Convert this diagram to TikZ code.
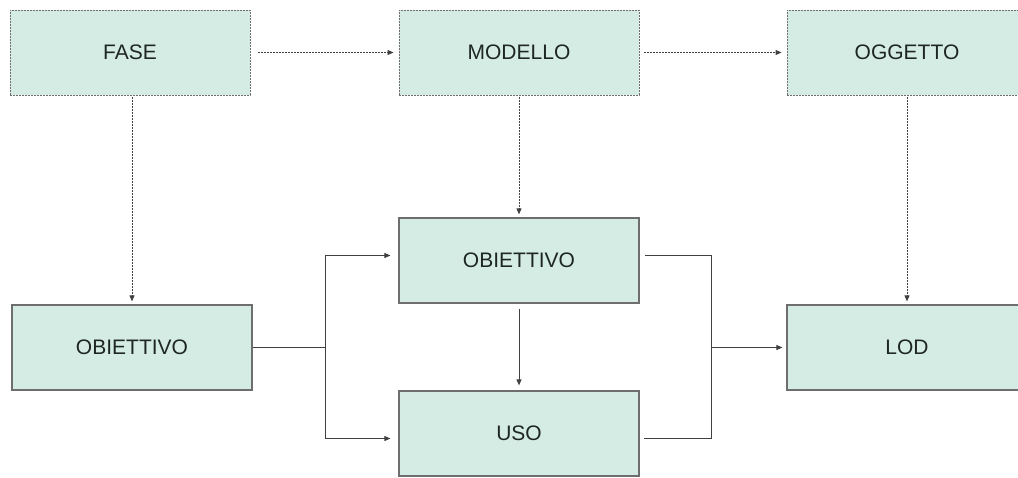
\documentclass[tikz,border=0pt]{standalone}
\usepackage{fontspec}
\setmainfont{Liberation Sans}
\usetikzlibrary{arrows.meta}
\definecolor{boxfill}{RGB}{213,236,228}
\definecolor{boxline}{RGB}{110,110,110}
\definecolor{boxtext}{RGB}{30,38,36}
\begin{document}
\begin{tikzpicture}[x = 1pt, y = -1pt,
	box/.style = {draw = boxline, line width = 1.2pt, fill = boxfill, text = boxtext,
		minimum width = 240pt, minimum height = 85pt, inner sep = 0pt,
		font = \fontsize{21}{25}\selectfont},
	dbox/.style = {box, line width = 0.9pt, dash pattern = on 2pt off 1pt},
	link/.style = {draw = black!75, line width = 0.9pt, -{Triangle[length = 6pt, width = 5pt]}},
	dlink/.style = {link, dash pattern = on 2pt off 1pt}]
	\useasboundingbox (0,0) rectangle (1018,477);
	\clip (0,0) rectangle (1018,477);
	% top row
	\node [dbox] (fase) at (130,52.5) {FASE};
	\node [dbox] (modello) at (519,52.5) {MODELLO};
	\node [dbox] (oggetto) at (907,52.5) {OGGETTO};
	% lower rows
	\node [box] (obiettivoA) at (132,347.5) {OBIETTIVO};
	\node [box] (obiettivoB) at (519,260.5) {OBIETTIVO};
	\node [box] (uso) at (519,433.5) {USO};
	\node [box] (lod) at (907,347.5) {LOD};
	% dotted links
	\draw [dlink, shorten <= 8pt, shorten >= 5pt] (fase) -- (modello);
	\draw [dlink, shorten <= 5pt, shorten >= 5pt] (modello) -- (oggetto);
	\draw [dlink, shorten <= 2pt, shorten >= 3pt] (obiettivoA.north |- fase.south) -- (obiettivoA.north);
	\draw [dlink, shorten <= 2pt, shorten >= 3pt] (modello) -- (obiettivoB);
	\draw [dlink, shorten <= 2pt, shorten >= 3pt] (oggetto) -- (lod);
	% solid links
	\draw [link, shorten <= 5pt, shorten >= 5pt] (obiettivoB) -- (uso);
	\draw [draw = black!75, line width = 0.9pt] (obiettivoA.east) -- ++(73,0) coordinate (forkL);
	\draw [link, shorten >= 8pt] (forkL) |- ([yshift = 5pt]obiettivoB.west);
	\draw [link, shorten >= 8pt] (forkL) |- ([yshift = -5pt]uso.west);
	\draw [draw = black!75, line width = 0.9pt, shorten <= 5pt, shorten >= 4pt]
		([yshift = 5pt]obiettivoB.east) -- ++(72,0) coordinate (forkR)
		|- ([yshift = -5pt]uso.east);
	\draw [link, shorten >= 4pt] (forkR |- lod.west) -- (lod.west);
\end{tikzpicture}
\end{document}
